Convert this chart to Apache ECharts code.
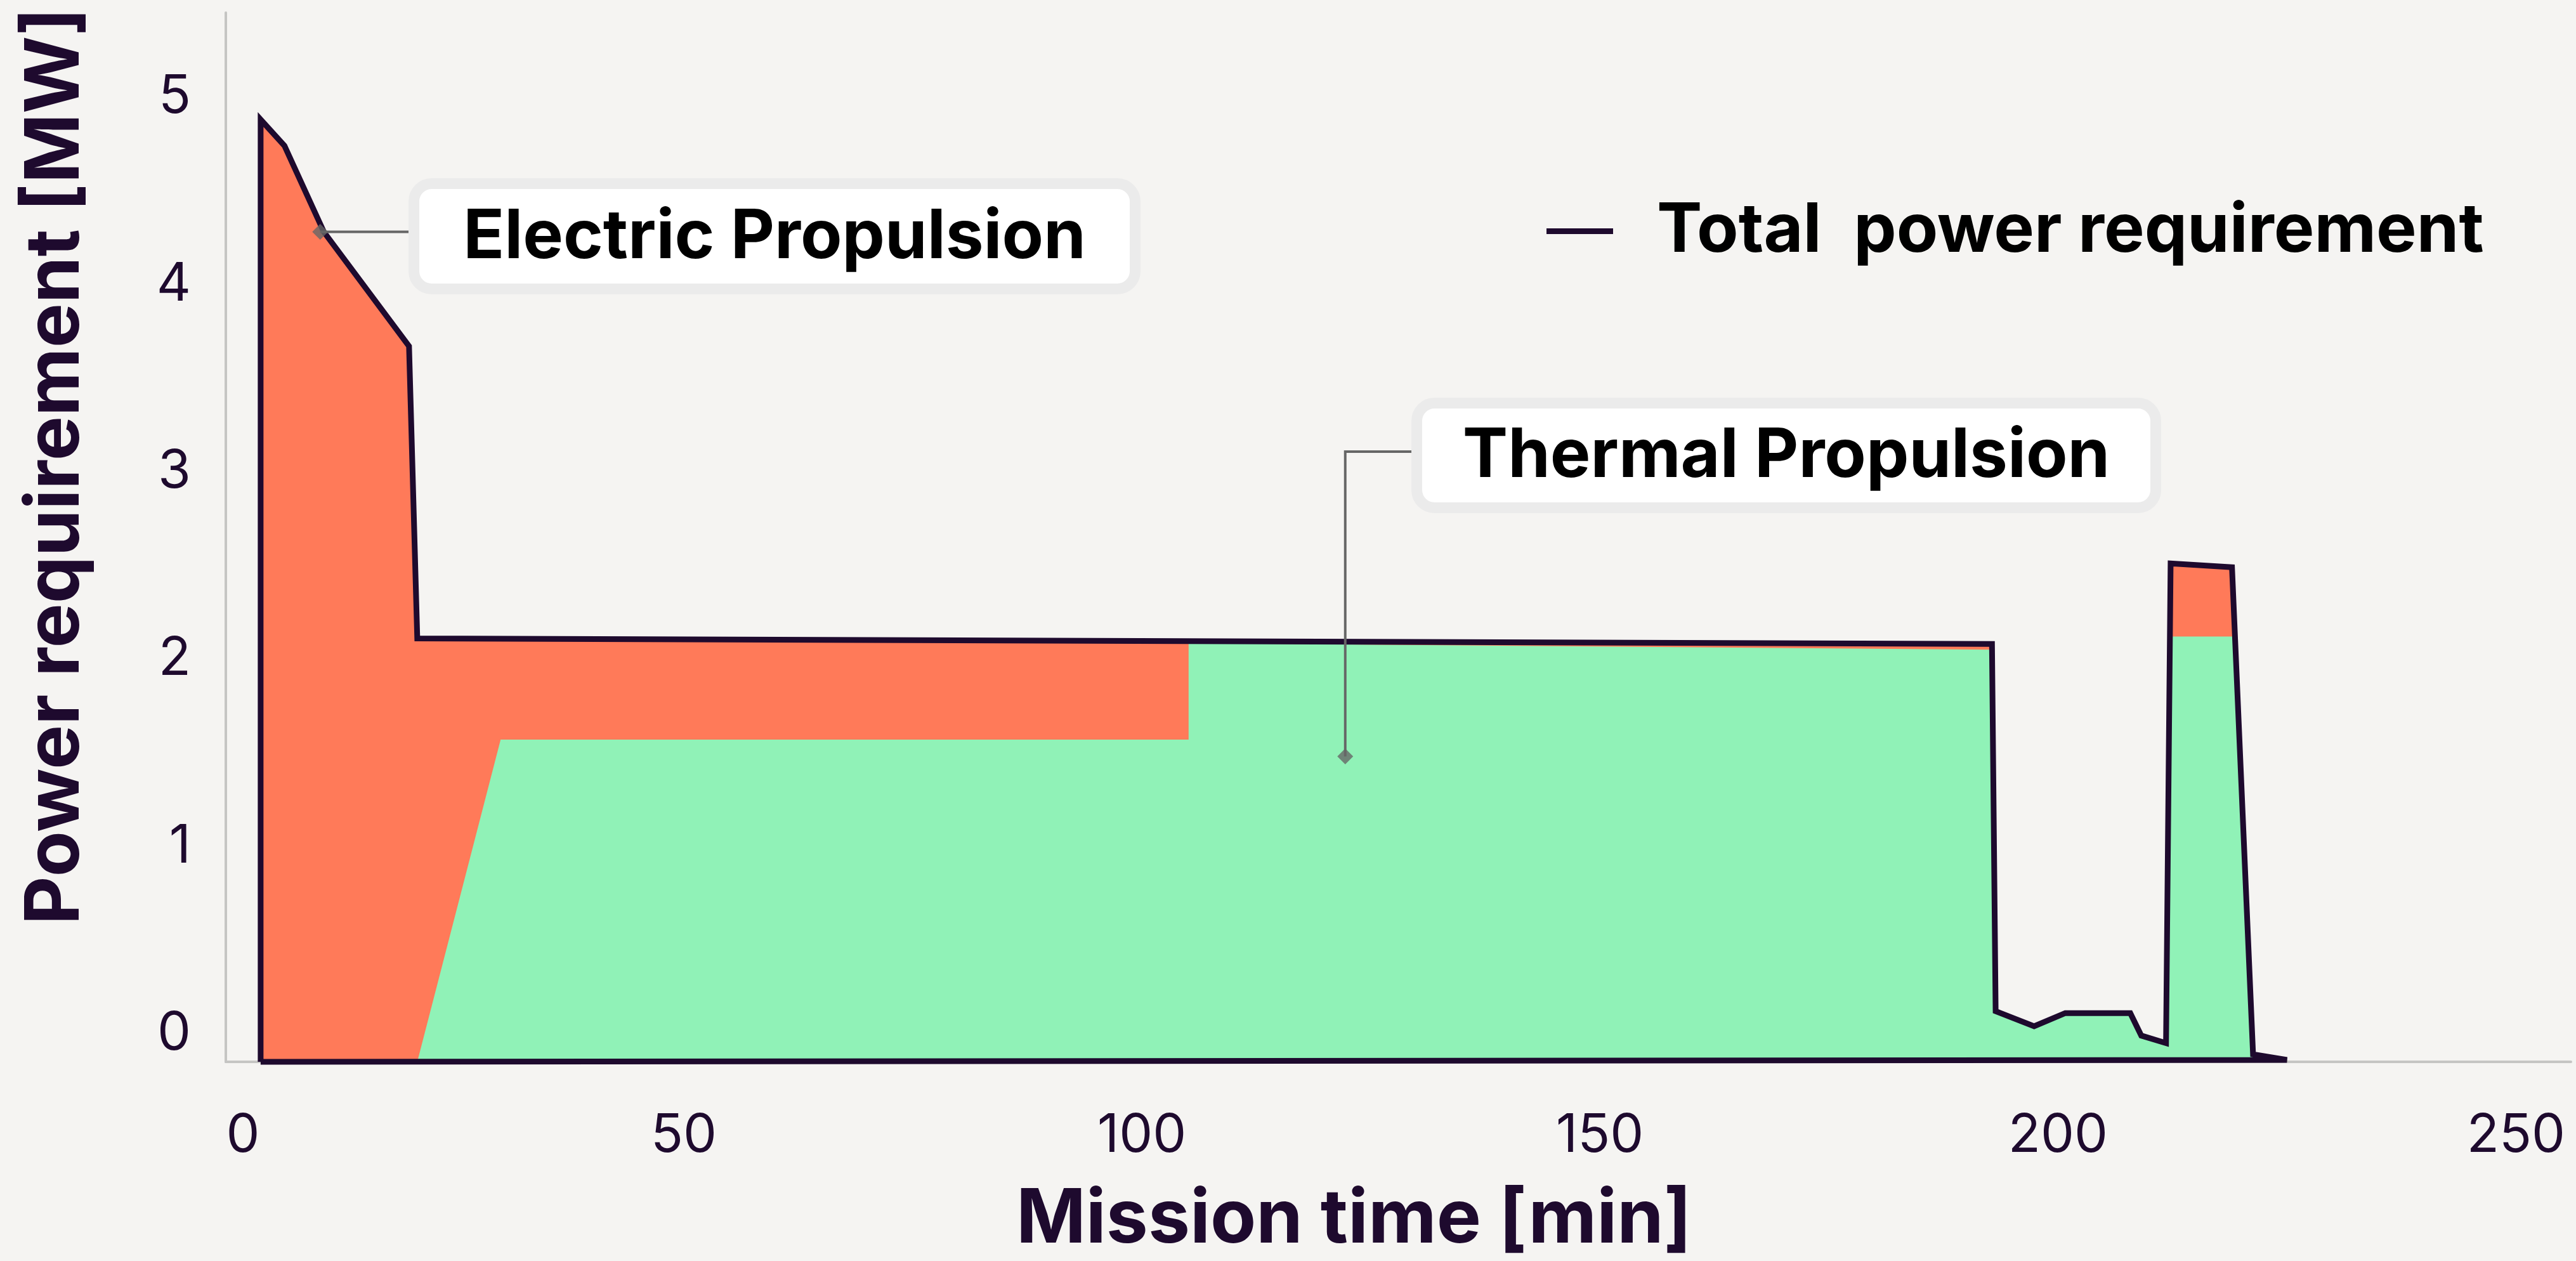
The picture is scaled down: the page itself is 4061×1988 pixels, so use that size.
<!DOCTYPE html>
<html>
<head>
<meta charset="utf-8">
<script src="https://cdn.jsdelivr.net/npm/echarts@6/dist/echarts.min.js"></script>
<style>
  html, body { margin: 0; padding: 0; background: #f5f4f2; }
  #chart { width: 4061px; height: 1988px; }
</style>
</head>
<body>
<div id="chart"></div>
<script>
// ---- data (mission time in min, power in MW) ----
const baseline = -0.2;
const xTickLabels = [0, 50, 100, 150, 200, 250];
const yTickLabels = [0, 1, 2, 3, 4, 5];

// upper edge of the whole stack = total power requirement
const totalProfile = [
  [3.8, 4.83], [6.4, 4.69], [10.7, 4.23], [20.0, 3.62], [20.9, 2.06],
  [192.8, 2.03], [193.2, 0.07], [197.4, -0.01], [200.8, 0.06], [207.9, 0.06],
  [209.1, -0.06], [211.8, -0.10], [212.3, 2.46], [219.0, 2.44], [221.3, -0.16],
  [225.0, -0.19]
];
// upper edge of thermal propulsion share
const thermalProfile = [
  [20.9, -0.2], [30.0, 1.52], [105.1, 1.52], [105.1, 2.035], [192.8, 2.00],
  [193.2, 0.07], [197.4, -0.01], [200.8, 0.06], [207.9, 0.06], [209.1, -0.06],
  [211.8, -0.10], [212.2, 2.07], [219.3, 2.07], [221.3, -0.16], [225.0, -0.19]
];
const annotationNames = ['Electric Propulsion', 'Thermal Propulsion'];
const annotationAnchors = [[10.3, 4.23], [122.2, 1.43]];

const totalName = 'Total  power requirement';
const dark = '#1e0a2e';
const font = 'Inter';

// closed outline of the total profile
const totalOutline = [[totalProfile[0][0], baseline]]
  .concat(totalProfile)
  .concat([[totalProfile[0][0], baseline]]);

const chart = echarts.init(document.getElementById('chart'), null, { renderer: 'canvas' });

const option = {
  animation: false,
  backgroundColor: '#f5f4f2',
  grid: { left: 356, right: 8, top: 20, bottom: 308 },
  legend: {
    data: [totalName],
    left: 2433,
    top: 306,
    icon: 'rect',
    itemWidth: 105,
    itemHeight: 9,
    textStyle: {
      fontFamily: font, fontSize: 107, fontWeight: 'bold', color: '#000',
      lineHeight: 107, padding: [0, 0, 0, 64]
    }
  },
  xAxis: {
    type: 'value',
    min: 0, max: 256,
    name: 'Mission time [min]',
    nameLocation: 'middle',
    nameGap: 250,
    nameTextStyle: {
      fontFamily: font, fontSize: 118, fontWeight: 'bold', color: dark,
      verticalAlign: 'middle', padding: [0, 140, 0, 0]
    },
    axisLine: { show: true, onZero: false, lineStyle: { color: '#c5c5c3', width: 4 } },
    axisTick: { show: false },
    splitLine: { show: false },
    axisLabel: {
      customValues: xTickLabels,
      margin: 117,
      verticalAlign: 'middle',
      fontFamily: font, fontSize: 84, color: dark,
      formatter: function (v) { return v === 0 ? '{z|0}' : String(v); },
      rich: {
        z: { fontFamily: font, fontSize: 84, color: dark, padding: [0, 0, 0, 54] }
      }
    }
  },
  yAxis: {
    type: 'value',
    min: baseline, max: 5.4,
    name: 'Power requirement [MW]',
    nameLocation: 'middle',
    nameGap: 267,
    nameRotate: 90,
    nameTextStyle: {
      fontFamily: font, fontSize: 118, fontWeight: 'bold', color: dark,
      verticalAlign: 'middle', padding: [0, 0, 0, 224]
    },
    axisLine: { show: true, onZero: false, lineStyle: { color: '#c5c5c3', width: 4 } },
    axisTick: { show: false },
    splitLine: { show: false },
    axisLabel: {
      customValues: yTickLabels,
      margin: 55,
      verticalAlign: 'top',
      lineHeight: 30,
      fontFamily: font, fontSize: 84, color: dark
    }
  },
  series: [
    {
      name: 'Electric Propulsion',
      type: 'line',
      data: totalProfile,
      symbol: 'none',
      lineStyle: { width: 0 },
      areaStyle: { color: '#ff7a59', opacity: 1, origin: 'start' },
      z: 1,
      silent: true
    },
    {
      name: 'Thermal Propulsion',
      type: 'line',
      data: thermalProfile,
      symbol: 'none',
      lineStyle: { width: 0 },
      areaStyle: { color: '#90f2b7', opacity: 1, origin: 'start' },
      z: 2,
      silent: true
    },
    {
      name: totalName,
      type: 'line',
      data: totalOutline,
      symbol: 'none',
      clip: false,
      itemStyle: { color: dark },
      lineStyle: { color: dark, width: 9, join: 'miter', miterLimit: 4 },
      z: 3,
      silent: true
    },
    {
      name: 'anchors',
      type: 'scatter',
      data: annotationAnchors,
      symbol: 'diamond',
      symbolSize: 25,
      itemStyle: { color: '#666666' },
      z: 5,
      silent: true
    }
  ]
};
chart.setOption(option);

// ---- annotation callouts ----
const pE = chart.convertToPixel({ gridIndex: 0 }, annotationAnchors[0]);
const pT = chart.convertToPixel({ gridIndex: 0 }, annotationAnchors[1]);

function box(x0, y0, x1, y1, label) {
  const bw = 17;
  return [
    {
      type: 'rect', z: 10,
      shape: { x: x0 + bw / 2, y: y0 + bw / 2, width: x1 - x0 - bw, height: y1 - y0 - bw, r: 28 },
      style: { fill: '#ffffff', stroke: '#ebebeb', lineWidth: bw }
    },
    {
      type: 'text', z: 11,
      style: {
        text: label, x: (x0 + x1) / 2, y: (y0 + y1) / 2 + 2,
        align: 'center', verticalAlign: 'middle',
        fontFamily: font, fontSize: 107, fontWeight: 'bold', fill: '#000'
      }
    }
  ];
}

const eBox = [644, 281, 1798, 464];
const tBox = [2225, 627, 3407, 809];
const tElbowY = 712;

chart.setOption({
  graphic: [
    {
      type: 'polyline', z: 4,
      shape: { points: [[pE[0], pE[1]], [eBox[0] + 2, pE[1]]] },
      style: { stroke: '#666666', lineWidth: 4, fill: null }
    },
    {
      type: 'polyline', z: 4,
      shape: { points: [[pT[0], pT[1]], [pT[0], tElbowY], [tBox[0] + 2, tElbowY]] },
      style: { stroke: '#666666', lineWidth: 4, fill: null }
    }
  ].concat(box(eBox[0], eBox[1], eBox[2], eBox[3], annotationNames[0]))
   .concat(box(tBox[0], tBox[1], tBox[2], tBox[3], annotationNames[1]))
});
</script>
</body>
</html>
